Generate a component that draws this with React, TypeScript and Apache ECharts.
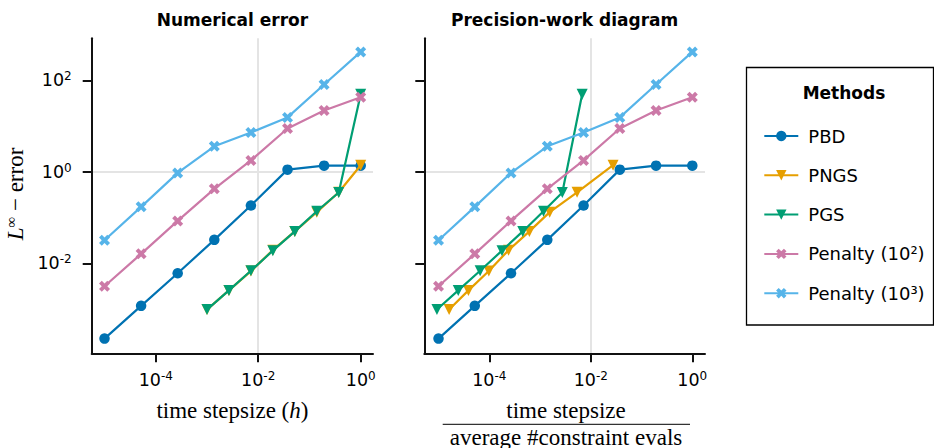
import React, { useEffect, useRef } from "react";
import * as echarts from "echarts";

// ---- data ----
const hStep = [1e-5, 5.18e-5, 2.68e-4, 1.39e-3, 7.2e-3, 3.73e-2, 0.193, 1];
const hStepGS = [1e-3, 2.68e-3, 7.2e-3, 1.93e-2, 5.18e-2, 0.139, 0.373, 1];

const errPBD = [2.27e-4, 1.18e-3, 6.08e-3, 3.27e-2, 0.184, 1.12, 1.37, 1.37];
const errPNGS = [9.8e-4, 2.57e-3, 6.8e-3, 1.95e-2, 5.0e-2, 0.132, 0.358, 1.4];
const errPGS = [9.8e-4, 2.57e-3, 6.9e-3, 1.9e-2, 5.0e-2, 0.138, 0.355, 50];
const errPen2 = [3.16e-3, 1.62e-2, 8.5e-2, 0.427, 1.78, 8.9, 21.9, 42.7];
const errPen3 = [3.2e-2, 0.172, 0.95, 3.63, 7.24, 15.5, 81.3, 420];

// time stepsize / average #constraint evals
const workPBD = [1e-5, 5.18e-5, 2.68e-4, 1.39e-3, 7.2e-3, 3.73e-2, 0.193, 1];
const workPNGS = [1.62e-5, 3.89e-5, 9.8e-5, 2.4e-4, 6.17e-4, 1.55e-3, 5.37e-3, 2.75e-2];
const workPGS = [9.3e-6, 2.45e-5, 6.6e-5, 1.78e-4, 4.57e-4, 1.17e-3, 2.75e-3, 6.76e-3];
const workPen2 = [1e-5, 5.18e-5, 2.68e-4, 1.39e-3, 7.2e-3, 3.73e-2, 0.193, 1];
const workPen3 = [1e-5, 5.18e-5, 2.68e-4, 1.39e-3, 7.2e-3, 3.73e-2, 0.193, 1];

const methodNames = ["PBD", "PNGS", "PGS", "Penalty (10²)", "Penalty (10³)"];
const methodColors = ["#0072B2", "#E69F00", "#009E73", "#CC79A7", "#56B4E9"];

const xTickExps = [-4, -2, 0];
const yTickExps = [-2, 0, 2];

const SANS = "DejaVu Sans";
const SERIF = "Liberation Serif";

const XCROSS = "path://M3,0L4,1L3,2L4,3L3,4L2,3L1,4L0,3L1,2L0,1L1,0L2,1Z";

const markers = [
  { symbol: "circle", size: 10.5, rotate: 0 },
  { symbol: "triangle", size: 11, rotate: 180 },
  { symbol: "triangle", size: 11, rotate: 180 },
  { symbol: XCROSS, size: 11, rotate: 0 },
  { symbol: XCROSS, size: 11, rotate: 0 },
];

const toLog = (xs: number[], ys: number[]) => xs.map((x, i) => [Math.log10(x), Math.log10(ys[i])]);

export default function App() {
  const ref = useRef<HTMLDivElement>(null);
  useEffect(() => {
    if (!ref.current) return;
    const chart = echarts.init(ref.current, undefined, { renderer: "svg" });

    const leftData = [
      toLog(hStep, errPBD),
      toLog(hStepGS, errPNGS),
      toLog(hStepGS, errPGS),
      toLog(hStep, errPen2),
      toLog(hStep, errPen3),
    ];
    const rightData = [
      toLog(workPBD, errPBD),
      toLog(workPNGS, errPNGS),
      toLog(workPGS, errPGS),
      toLog(workPen2, errPen2),
      toLog(workPen3, errPen3),
    ];

    const supFmt = (v: number) => `10{sup|${Math.round(v)}}`;
    const labelStyle = {
      fontFamily: SANS,
      fontSize: 17.5,
      color: "#000",
      lineHeight: 20,
      rich: {
        sup: { fontFamily: SANS, fontSize: 12, lineHeight: 12, verticalAlign: "top", color: "#000" },
      },
    };
    const axisLine = { show: true, onZero: false, lineStyle: { color: "#111", width: 2 } };
    const splitLine = { show: true, showMinLine: false, showMaxLine: false, lineStyle: { color: "#e4e4e4", width: 2 } };

    const mkX = (gridIndex: number, min: number, max: number) => ({
      type: "value",
      gridIndex,
      min,
      max,
      axisLine,
      axisTick: { show: true, inside: false, length: 9, customValues: xTickExps, lineStyle: { color: "#111", width: 2 } },
      axisLabel: { ...labelStyle, margin: 17, customValues: xTickExps, formatter: supFmt },
      splitLine,
    });
    const mkY = (gridIndex: number, showLabel: boolean) => ({
      type: "value",
      gridIndex,
      min: -3.965,
      max: 2.92,
      axisLine,
      axisTick: { show: true, inside: false, length: 9, customValues: yTickExps, lineStyle: { color: "#111", width: 2 } },
      axisLabel: { ...labelStyle, show: showLabel, margin: 20, customValues: yTickExps, formatter: supFmt },
      splitLine,
    });

    const series: any[] = [];
    [leftData, rightData].forEach((dataSet, gi) => {
      dataSet.forEach((d, i) => {
        series.push({
          type: "line",
          name: methodNames[i],
          xAxisIndex: gi,
          yAxisIndex: gi,
          data: d,
          symbol: markers[i].symbol,
          symbolSize: markers[i].size,
          symbolRotate: markers[i].rotate,
          showSymbol: true,
          color: methodColors[i],
          lineStyle: { width: 2.2, color: methodColors[i] },
          itemStyle: { color: methodColors[i], borderWidth: 0 },
          z: 2 + i,
        });
      });
    });

    chart.setOption({
      animation: false,
      backgroundColor: "#fff",
      grid: [
        { left: 91.7, top: 38.3, width: 281.3, height: 315 },
        { left: 424.3, top: 38.3, width: 280.7, height: 315 },
      ],
      xAxis: [mkX(0, -5.25, 0.24), mkX(1, -5.28, 0.25)],
      yAxis: [mkY(0, true), mkY(1, false)],
      legend: {
        orient: "vertical",
        left: 763.3,
        top: 126,
        padding: 0,
        itemWidth: 34,
        itemHeight: 13,
        itemGap: 19.3,
        data: methodNames,
        textStyle: { fontFamily: SANS, fontSize: 18, color: "#000", lineHeight: 20, padding: [0, 0, 0, 5] },
      },
      series,
      graphic: [
        {
          type: "text",
          x: 232.4,
          y: 20,
          style: { text: "Numerical error", font: `bold 17px "${SANS}"`, fill: "#000", textAlign: "center", textVerticalAlign: "middle" },
        },
        {
          type: "text",
          x: 564.6,
          y: 20,
          style: { text: "Precision-work diagram", font: `bold 17px "${SANS}"`, fill: "#000", textAlign: "center", textVerticalAlign: "middle" },
        },
        {
          type: "text",
          x: 15,
          y: 194,
          rotation: Math.PI / 2,
          style: {
            text: "{i|L}{s|∞}{n| − error}",
            textAlign: "center",
            textVerticalAlign: "middle",
            fill: "#000",
            rich: {
              i: { fontFamily: SERIF, fontStyle: "italic", fontSize: 23, lineHeight: 24, fill: "#000" },
              s: { fontFamily: SERIF, fontSize: 15, lineHeight: 15, verticalAlign: "top", fill: "#000" },
              n: { fontFamily: SERIF, fontSize: 23, lineHeight: 24, fill: "#000" },
            },
          },
        },
        {
          type: "text",
          x: 232.4,
          y: 410,
          style: {
            text: "{n|time stepsize (}{i|h}{n|)}",
            textAlign: "center",
            textVerticalAlign: "middle",
            fill: "#000",
            rich: {
              i: { fontFamily: SERIF, fontStyle: "italic", fontSize: 23, fill: "#000" },
              n: { fontFamily: SERIF, fontSize: 23, fill: "#000" },
            },
          },
        },
        {
          type: "text",
          x: 566,
          y: 410,
          style: { text: "time stepsize", font: `23px "${SERIF}"`, fill: "#000", textAlign: "center", textVerticalAlign: "middle" },
        },
        {
          type: "line",
          shape: { x1: 442.7, y1: 424.3, x2: 690, y2: 424.3 },
          style: { stroke: "#333", lineWidth: 1.2 },
        },
        {
          type: "text",
          x: 566,
          y: 437,
          style: { text: "average #constraint evals", font: `23px "${SERIF}"`, fill: "#000", textAlign: "center", textVerticalAlign: "middle" },
        },
        {
          type: "rect",
          shape: { x: 746.5, y: 67.5, width: 187, height: 257.5 },
          style: { fill: "none", stroke: "#000", lineWidth: 1.3 },
          z: -1,
        },
        {
          type: "text",
          x: 844,
          y: 93,
          style: { text: "Methods", font: `bold 17px "${SANS}"`, fill: "#000", textAlign: "center", textVerticalAlign: "middle" },
        },
      ],
    });
    return () => chart.dispose();
  }, []);
  return <div ref={ref} style={{ position: "fixed", left: 0, top: 0, width: 934, height: 448 }} />;
}
